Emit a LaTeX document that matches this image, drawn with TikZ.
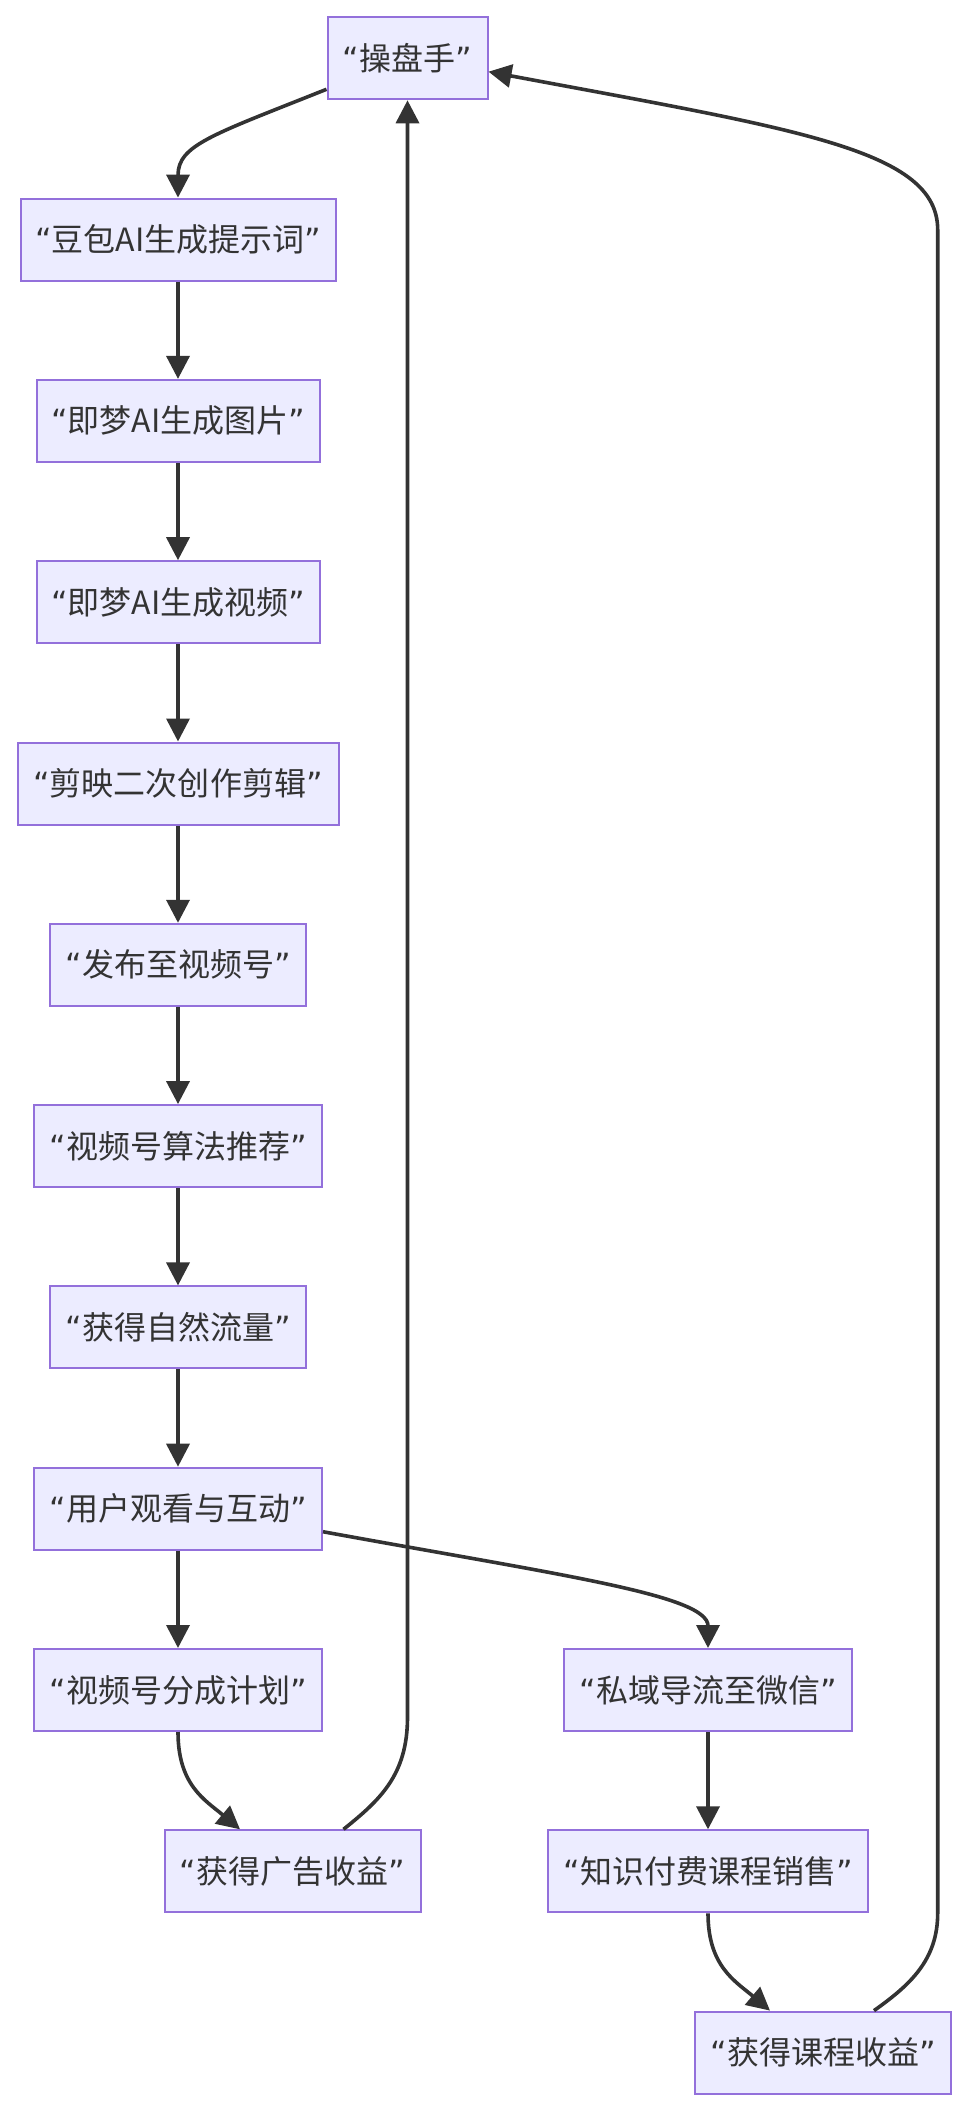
\documentclass[tikz,border=0pt]{standalone}
\usepackage{fontspec}
\setmainfont{Noto Sans CJK SC}
\newfontfamily\qfont{DejaVu Sans}
\usetikzlibrary{arrows.meta}
\definecolor{nodefill}{HTML}{ECECFF}
\definecolor{nodeborder}{HTML}{9370DB}
\definecolor{edgecol}{HTML}{333333}
\newcommand{\qt}[1]{{\qfont “}#1{\qfont ”}}
\begin{document}
\begin{tikzpicture}[x=1pt,y=-1pt,
  box/.style={draw=nodeborder, fill=nodefill, line width=2pt, minimum height=82pt,
    inner sep=0pt, text=edgecol, font=\fontsize{32}{38}\selectfont},
  edge/.style={draw=edgecol, line width=3.6pt, -{Triangle[length=23pt,width=23pt]}},
]
\useasboundingbox (0,0) rectangle (968,2108);
\node[box, minimum width=160pt] (cp) at (407.5,58.3) {\qt{操盘手}};
\node[box, minimum width=315pt] (db) at (178,239.6) {\qt{豆包AI生成提示词}};
\node[box, minimum width=283pt] (tp) at (178,420.9) {\qt{即梦AI生成图片}};
\node[box, minimum width=283pt] (sp) at (178,602.2) {\qt{即梦AI生成视频}};
\node[box, minimum width=321pt] (jy) at (178,783.5) {\qt{剪映二次创作剪辑}};
\node[box, minimum width=256pt] (fb) at (178,964.8) {\qt{发布至视频号}};
\node[box, minimum width=288pt] (tj) at (178,1146.1) {\qt{视频号算法推荐}};
\node[box, minimum width=256pt] (ll) at (178,1327.4) {\qt{获得自然流量}};
\node[box, minimum width=288pt] (hd) at (178,1508.7) {\qt{用户观看与互动}};
\node[box, minimum width=288pt] (fc) at (178,1690) {\qt{视频号分成计划}};
\node[box, minimum width=288pt] (sy) at (708,1690) {\qt{私域导流至微信}};
\node[box, minimum width=256pt] (gg) at (292.5,1871.3) {\qt{获得广告收益}};
\node[box, minimum width=320pt] (zs) at (708,1871.3) {\qt{知识付费课程销售}};
\node[box, minimum width=256pt] (kc) at (823,2052.6) {\qt{获得课程收益}};

\coordinate (a1) at (407.5,1717);
\coordinate (b1) at (937.7,1913);
\coordinate (b2) at (937.7,230);

\draw[edge] ([yshift=-31pt]cp.west) .. controls (212,135) and (178,145) .. (db.north);
\draw[edge] (db) -- (tp);
\draw[edge] (tp) -- (sp);
\draw[edge] (sp) -- (jy);
\draw[edge] (jy) -- (fb);
\draw[edge] (fb) -- (tj);
\draw[edge] (tj) -- (ll);
\draw[edge] (ll) -- (hd);
\draw[edge] (hd) -- (fc);
\draw[edge] ([yshift=-23pt]hd.east) .. controls (560,1575) and (708,1595) .. (sy.north);
\draw[edge] (sy) -- (zs);
\draw[edge] (fc.south) .. controls (178,1785) and (205,1800) .. ([xshift=-52.5pt]gg.north);
\draw[edge] (zs.south) .. controls (708,1966) and (735,1981) .. ([xshift=-53pt]kc.north);
\draw[edge] ([xshift=51pt]gg.north) .. controls (380,1800) and (407.5,1775) .. (a1) -- (cp.south);
\draw[edge] ([xshift=51pt]kc.north) .. controls (910,1985) and (937.7,1960) .. (b1) -- (b2)
  .. controls (937.7,150) and (800,130) .. ([yshift=-13.4pt]cp.east);
\end{tikzpicture}
\end{document}
